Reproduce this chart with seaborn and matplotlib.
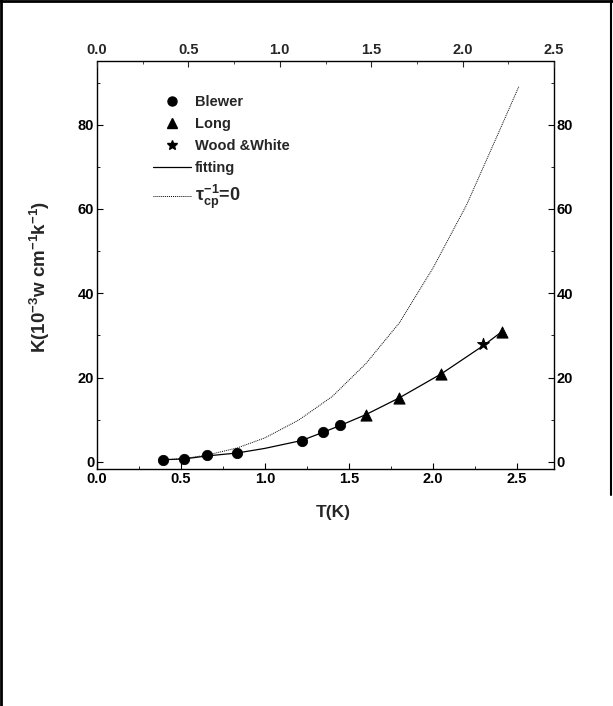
import numpy as np
import pandas as pd
import matplotlib
matplotlib.use("Agg")
import matplotlib.pyplot as plt
from matplotlib.lines import Line2D
from matplotlib.ticker import MultipleLocator, FormatStrFormatter
import seaborn as sns

# ---- data ----
blewer_T = [0.39, 0.52, 0.655, 0.835, 1.218, 1.345, 1.446]
blewer_K = [0.5, 0.64, 1.66, 2.1, 5.06, 7.1, 8.8]

long_T = [1.60, 1.80, 2.05, 2.41]
long_K = [11.2, 15.2, 20.9, 30.9]

wood_T = [2.30]
wood_K = [28.0]

fit_T = [0.39, 0.52, 0.655, 0.835, 1.0, 1.218, 1.345, 1.446, 1.60, 1.80, 2.05, 2.30, 2.41]
fit_K = [0.5, 0.7, 1.4, 2.1, 3.2, 5.06, 7.0, 8.6, 11.2, 15.2, 20.9, 27.6, 30.9]

tau_T = [0.39, 0.52, 0.655, 0.835, 1.0, 1.2, 1.4, 1.6, 1.8, 2.0, 2.2, 2.4, 2.51]
tau_K = [0.4, 0.8, 1.6, 3.3, 5.7, 9.9, 15.5, 23.3, 33.0, 46.0, 61.0, 79.0, 89.0]

bottom_ticks = [0.0, 0.5, 1.0, 1.5, 2.0, 2.5]
top_ticks = [0.0, 0.5, 1.0, 1.5, 2.0, 2.5]
y_ticks = [0, 20, 40, 60, 80]

sns.set_style("white")
plt.rcParams['font.family'] = ['Liberation Sans', 'DejaVu Sans']
plt.rcParams['font.weight'] = 'bold'
plt.rcParams['mathtext.fontset'] = 'custom'
plt.rcParams['mathtext.rm'] = 'Liberation Sans:bold'
plt.rcParams['mathtext.it'] = 'Liberation Sans:bold'
plt.rcParams['mathtext.bf'] = 'Liberation Sans:bold'

fig = plt.figure(figsize=(6.13, 7.06), dpi=100)
pos = [97/613, 1-469/706, (554-97)/613, (469-61.5)/706]
ax = fig.add_axes(pos)

df_fit = pd.DataFrame({"T": fit_T, "K": fit_K})
df_tau = pd.DataFrame({"T": tau_T, "K": tau_K})
sns.lineplot(data=df_fit, x="T", y="K", ax=ax, color="black", lw=0.9, sort=False)
sns.lineplot(data=df_tau, x="T", y="K", ax=ax, color="black", lw=0.7, sort=False,
             linestyle=(0, (1, 1)))

sns.scatterplot(x=blewer_T, y=blewer_K, ax=ax, marker="o", s=55, color="black",
                edgecolor="black", zorder=5)
sns.scatterplot(x=long_T, y=long_K, ax=ax, marker="^", s=65, color="black",
                edgecolor="black", zorder=5)
sns.scatterplot(x=wood_T, y=wood_K, ax=ax, marker="*", s=80, color="black",
                edgecolor="black", zorder=5)

ax.set_xlim(0, 2.72)
ax.set_ylim(-1.7, 95)
ax.set_xticks(bottom_ticks)
ax.xaxis.set_minor_locator(MultipleLocator(0.25))
ax.set_yticks(y_ticks)
ax.yaxis.set_minor_locator(MultipleLocator(10))
ax.xaxis.set_major_formatter(FormatStrFormatter('%.1f'))
ax.yaxis.set_major_formatter(FormatStrFormatter('%d'))

ax.tick_params(axis='both', which='both', direction='in', labelsize=10.5,
               colors='black')
ax.tick_params(axis='y', which='both', right=True, labelright=True, left=True)
ax.tick_params(axis='y', which='major', length=4, pad=2)
ax.tick_params(axis='y', which='minor', length=2.5)
ax.tick_params(axis='x', which='major', length=4, pad=2)
ax.tick_params(axis='x', which='minor', length=2.5)
for lab in ax.get_yticklabels() + ax.get_xticklabels():
    lab.set_fontweight('bold')

for s in ax.spines.values():
    s.set_linewidth(1.0)
    s.set_color('black')
ax.spines['top'].set_visible(False)

ax2 = ax.twiny()
ax2.set_xlim(0, 2.5)
ax2.set_position(pos)
ax2.set_xticks(top_ticks)
ax2.xaxis.set_minor_locator(MultipleLocator(0.25))
ax2.xaxis.set_major_formatter(FormatStrFormatter('%.1f'))
ax2.tick_params(axis='x', which='both', direction='in', labelsize=10.5, pad=3)
ax2.tick_params(axis='x', which='major', length=4)
ax2.tick_params(axis='x', which='minor', length=2.5)
for lab in ax2.get_xticklabels():
    lab.set_fontweight('bold')
for name, s in ax2.spines.items():
    s.set_visible(name == 'top')
    s.set_linewidth(1.0)
    s.set_color('black')
ax2.grid(False)

ax.set_xlabel("T(K)", fontsize=12.5, fontweight='bold')
ax.xaxis.set_label_coords((333-97)/457, -(505-469)/407.5)
ax.set_ylabel(r"K(10$^{-3}$w cm$^{-1}$k$^{-1}$)", fontsize=13.5, fontweight='bold')
ax.yaxis.set_label_coords(-(97-52)/457, (469-277)/407.5)
ax.grid(False)

handles = [
    Line2D([], [], marker='o', color='black', linestyle='none', markersize=6.5),
    Line2D([], [], marker='^', color='black', linestyle='none', markersize=7),
    Line2D([], [], marker='*', color='black', linestyle='none', markersize=7.5),
    Line2D([], [], color='black', lw=0.9),
    Line2D([], [], color='black', lw=0.7, linestyle=(0, (1, 1))),
]
labels = ["Blewer", "Long", "Wood &White", "fitting", r"$\tau^{-1}_{cp}$=0"]
leg = ax.legend(handles, labels, loc='upper left',
                bbox_to_anchor=(153/613, 1-95/706), bbox_transform=fig.transFigure,
                frameon=False, fontsize=10.5, handlelength=2.6, handletextpad=0.25,
                labelspacing=0.55, borderpad=0, borderaxespad=0)
for t in leg.get_texts():
    t.set_fontweight('bold')
leg.get_texts()[4].set_fontsize(13)

# outer frame lines
fig.add_artist(Line2D([0, 1], [1 - 1/706, 1 - 1/706], transform=fig.transFigure,
                      color='black', lw=2))
fig.add_artist(Line2D([1/613, 1/613], [0, 1], transform=fig.transFigure,
                      color='black', lw=2))
fig.add_artist(Line2D([611/613, 611/613], [1 - 495/706, 1], transform=fig.transFigure,
                      color='black', lw=1.5))

fig.savefig("out.png", dpi=100)
